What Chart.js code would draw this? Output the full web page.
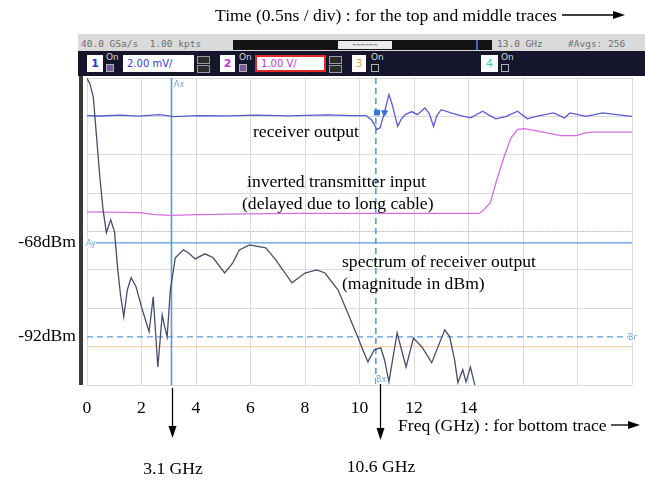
<!DOCTYPE html>
<html>
<head>
<meta charset="utf-8">
<script src="https://cdn.jsdelivr.net/npm/chart.js@4.4.1/dist/chart.umd.min.js"></script>
<style>
  body { margin: 0; width: 645px; height: 482px; background: #fff; position: relative; overflow: hidden;
         font-family: "Liberation Serif", "Times New Roman", serif; }
  #grafico { position: absolute; left: 0; top: 0; }
  .nota { position: absolute; font-size: 17.6px; line-height: 20px; color: #000; white-space: nowrap; }
  .centro { transform: translateX(-50%); }
  .mono { position: absolute; font: 9.5px "DejaVu Sans Mono", monospace; color: #707070; white-space: pre; line-height: 11px; }
  .caixa { position: absolute; top: 55px; height: 17px; background: #fff; text-align: center;
           font: bold 11px "DejaVu Sans", sans-serif; line-height: 17px; }
  .on { position: absolute; top: 52px; font: 9px "DejaVu Sans", sans-serif; color: #d8d8d8; }
  .chk { position: absolute; top: 64px; width: 6px; height: 6px; border: 1px solid #b0b0b0; }
  .campo { position: absolute; top: 55px; height: 17px; background: #fff; box-sizing: border-box; padding-left: 4px;
           font: 10px "DejaVu Sans", sans-serif; line-height: 17px; }
  .ico { position: absolute; width: 11px; height: 6px; border: 1px solid #9a9a9a; background: #2a2a2a; }
  .cursor { position: absolute; font: 8px "DejaVu Sans", sans-serif; color: #6fa3dc; background: #fff; line-height: 9px; }
</style>
</head>
<body>
<canvas id="grafico" width="645" height="482"></canvas>

<!-- barra do osciloscopio -->
<div style="position:absolute;left:78px;top:34px;width:567px;height:17px;background:#dadada"></div>
<span class="mono" style="left:81px;top:38px">40.0 GSa/s  1.00 kpts</span>
<div style="position:absolute;left:233px;top:40px;width:259px;height:10px;background:#141414"></div>
<div style="position:absolute;left:338px;top:41px;width:54px;height:8px;background:#ececec;font:7px 'DejaVu Sans Mono';line-height:8px;text-align:center;color:#333">~~~~~~</div>
<div style="position:absolute;left:476px;top:40px;width:2px;height:10px;background:#3a6ad0"></div>
<span class="mono" style="left:497px;top:38px">13.0 GHz</span>
<span class="mono" style="left:568px;top:38px">#Avgs: 256</span>

<div style="position:absolute;left:78px;top:51px;width:567px;height:25px;background:#15152b"></div>
<div class="caixa" style="left:87px;width:16px;color:#3333cc">1</div>
<span class="on" style="left:106px">On</span>
<div class="chk" style="left:106px;background:#7a5a9a"></div>
<div class="campo" style="left:123px;width:71px;color:#3a3ad0">2.00 mV/</div>
<div class="ico" style="left:197px;top:56px"></div>
<div class="ico" style="left:197px;top:65px"></div>
<div class="caixa" style="left:220px;width:15px;color:#c838c8">2</div>
<span class="on" style="left:239px">On</span>
<div class="chk" style="left:239px;background:#7a5a9a"></div>
<div class="campo" style="left:255px;width:71px;color:#c838c8;border:2px solid #e02828;line-height:13px">1.00 V/</div>
<div class="ico" style="left:329px;top:56px"></div>
<div class="ico" style="left:329px;top:65px"></div>
<div class="caixa" style="left:352px;width:14px;color:#e6a850;font-weight:normal">3</div>
<span class="on" style="left:371px">On</span>
<div class="chk" style="left:371px"></div>
<div class="caixa" style="left:481px;width:17px;color:#3ccfa0;font-weight:normal">4</div>
<span class="on" style="left:501px">On</span>
<div class="chk" style="left:501px"></div>

<!-- borda esquerda da tela -->
<div style="position:absolute;left:79px;top:76px;width:4px;height:309px;background:#3a3a3a"></div>

<!-- marcas dos cursores -->
<span class="cursor" style="left:174px;top:80px">Ax</span>
<span class="cursor" style="left:86px;top:239px">Ay</span>
<span class="cursor" style="left:376px;top:375px">Bx</span>
<span class="cursor" style="left:628px;top:333px">Br</span>

<!-- anotacoes -->
<span class="nota" style="left:215px;top:5px">Time (0.5ns / div) : for the top and middle traces</span>
<span class="nota" style="left:253px;top:121px">receiver output</span>
<span class="nota" style="left:247px;top:171px">inverted transmitter input</span>
<span class="nota" style="left:242px;top:193px">(delayed due to long cable)</span>
<span class="nota" style="left:342px;top:251px">spectrum of receiver output</span>
<span class="nota" style="left:342px;top:273px">(magnitude in dBm)</span>
<span class="nota" style="left:398px;top:415px">Freq (GHz) : for bottom trace</span>
<span class="nota centro" style="left:173px;top:458px">3.1 GHz</span>
<span class="nota centro" style="left:381px;top:456px">10.6 GHz</span>

<svg width="645" height="482" style="position:absolute;left:0;top:0">
  <line x1="562" y1="15" x2="615" y2="15" stroke="#000" stroke-width="1.3"/>
  <polygon points="613,11 625,15 613,19" fill="#000"/>
  <line x1="611" y1="425" x2="630" y2="425" stroke="#000" stroke-width="1.3"/>
  <polygon points="628,421 640,425 628,429" fill="#000"/>
  <line x1="172.5" y1="388" x2="172.5" y2="428" stroke="#000" stroke-width="1.3"/>
  <polygon points="168.5,426 172.5,438 176.5,426" fill="#000"/>
  <line x1="380.5" y1="384" x2="380.5" y2="430" stroke="#000" stroke-width="1.3"/>
  <polygon points="376.5,428 380.5,440 384.5,428" fill="#000"/>
</svg>

<script>
// espectro da saida do receptor (GHz, dBm)
const freqEspectro = [0, 0.11, 0.23, 0.35, 0.47, 0.59, 0.71, 0.87, 1.01, 1.13, 1.23, 1.35, 1.48, 1.62, 1.80, 2.03,
  2.28, 2.43, 2.60, 2.76, 2.85, 2.94, 3.06, 3.24, 3.54, 3.73, 3.97, 4.33, 4.63, 5.05, 5.35, 5.59, 5.96, 6.56,
  6.92, 7.52, 8.00, 8.43, 8.73, 9.21, 9.57, 9.93, 10.17, 10.31, 10.54, 10.78, 10.92, 11.08, 11.38, 11.54, 11.71,
  11.98, 12.29, 12.65, 13.13, 13.31, 13.49, 13.61, 13.79, 13.91, 14.07, 14.21, 14.36];
const dbmEspectro = [-26, -27.4, -30.7, -40.9, -51.1, -59.6, -65.4, -62.1, -65.2, -74.9, -81.3, -86.9, -80.0, -76.9,
  -79.2, -85.1, -90.7, -81.8, -99.7, -86.4, -89.4, -92.0, -80.0, -71.8, -69.8, -70.6, -72.1, -70.8, -71.8, -75.7,
  -73.1, -69.8, -68.5, -69.3, -72.3, -78.2, -75.7, -74.9, -75.7, -80.0, -85.9, -92.0, -96.1, -98.4, -95.3, -94.8,
  -97.9, -103.5, -91.0, -95.3, -99.7, -92.3, -94.6, -98.6, -90.2, -92.0, -97.9, -103.7, -100.4, -103.5, -99.7,
  -103.7, -108.0];

// saida do receptor (ns, mV)
const tempoReceptor = [0, 0.12, 0.30, 0.48, 0.66, 0.80, 1.02, 1.29, 1.56, 1.84, 2.20, 2.42, 2.56, 2.61, 2.66, 2.69,
  2.73, 2.77, 2.80, 2.85, 2.88, 2.92, 2.98, 3.03, 3.10, 3.14, 3.18, 3.21, 3.25, 3.34, 3.43, 3.52, 3.63, 3.68, 3.75,
  3.84, 3.95, 4.04, 4.12, 4.28, 4.38, 4.43, 4.58, 4.73, 4.86, 5.00];
const mvReceptor = [6.04, 6.02, 6.07, 6.01, 6.09, 5.99, 6.04, 6.03, 6.07, 6.03, 6.08, 6.04, 6.04, 5.83, 5.31, 5.42,
  6.25, 7.14, 6.61, 5.48, 5.83, 6.09, 6.25, 6.09, 6.44, 6.15, 5.48, 6.04, 6.35, 6.18, 6.04, 5.92, 6.27, 6.09, 5.87,
  5.99, 6.27, 5.87, 6.00, 6.18, 5.92, 6.18, 6.00, 6.18, 6.09, 6.00];

// entrada invertida do transmissor (ns, V)
const tempoTransmissor = [0, 0.48, 0.62, 0.77, 1.02, 1.47, 1.93, 2.56, 3.10, 3.60, 3.64, 3.70, 3.76, 3.83, 3.89,
  3.95, 4.01, 4.11, 4.22, 4.34, 4.49, 4.57, 4.64, 5.00];
const vTransmissor = [0.51, 0.49, 0.44, 0.42, 0.44, 0.46, 0.47, 0.47, 0.47, 0.47, 0.57, 0.75, 1.35, 1.98, 2.44,
  2.66, 2.68, 2.63, 2.57, 2.50, 2.50, 2.57, 2.59, 2.59];

// marcadores na saida do receptor (ns, mV)
const tempoMarcadores = [2.66, 2.73];
const mvMarcadores = [6.2, 6.2];

// cursores e rotulos
const cursoresFreq = [3.1, 10.6];     // GHz (Ax, Bx)
const cursoresNivel = [-68, -92];     // dBm (Ay, Br)
const rotulosFreq = [0, 2, 4, 6, 8, 10, 12, 14];

const fonteSerif = { family: 'Liberation Serif', size: 17.6 };
const corGrade = '#d9dae0';
const corCursor = '#5c9ade';

function pontos(xs, ys) {
  return xs.map((x, i) => ({ x: x, y: ys[i] }));
}

function linhaH(y, xId, yId, cor, tracejado) {
  return {
    data: [{ x: 0, y: y }, { x: 20, y: y }],
    xAxisID: xId, yAxisID: yId,
    borderColor: cor, borderWidth: 1.2, borderDash: tracejado || [],
    pointRadius: 0
  };
}

function linhaV(x, cor, tracejado) {
  return {
    data: [{ x: x, y: -25.9 }, { x: x, y: -104.3 }],
    xAxisID: 'x', yAxisID: 'y',
    borderColor: cor, borderWidth: 1.6, borderDash: tracejado || [],
    pointRadius: 0
  };
}

const ctx = document.getElementById('grafico').getContext('2d');

const grafico = new Chart(ctx, {
  type: 'line',
  data: {
    datasets: [
      {
        label: 'spectrum',
        data: pontos(freqEspectro, dbmEspectro),
        xAxisID: 'x', yAxisID: 'y',
        borderColor: '#474e68', borderWidth: 1.3, pointRadius: 0
      },
      {
        label: 'receiver output',
        data: pontos(tempoReceptor, mvReceptor),
        xAxisID: 'xt', yAxisID: 'yRx',
        borderColor: '#5a5ad2', borderWidth: 1.3, pointRadius: 0
      },
      {
        label: 'transmitter input',
        data: pontos(tempoTransmissor, vTransmissor),
        xAxisID: 'xt', yAxisID: 'yTx',
        borderColor: '#d46ee0', borderWidth: 1.3, pointRadius: 0
      },
      {
        label: 'markers',
        data: pontos(tempoMarcadores, mvMarcadores),
        xAxisID: 'xt', yAxisID: 'yRx',
        showLine: false,
        pointStyle: ['rect', 'triangle'], rotation: [0, 180],
        pointRadius: 3.5, backgroundColor: '#2a7ae2', borderColor: '#2a7ae2'
      },
      linhaV(cursoresFreq[0], corCursor),
      linhaV(cursoresFreq[1], corCursor, [6, 4]),
      linhaH(cursoresNivel[0], 'x', 'y', corCursor),
      linhaH(cursoresNivel[1], 'x', 'y', corCursor, [6, 4]),
      linhaH(4, 'x', 'yg', '#dcbcc6', [2, 3]),
      linhaH(1, 'x', 'yg', '#f4d2b6')
    ]
  },
  options: {
    responsive: false,
    devicePixelRatio: 1,
    animation: false,
    layout: { padding: { top: 78, right: 5, left: 0, bottom: 0 } },
    plugins: {
      legend: { display: false },
      tooltip: { enabled: false }
    },
    elements: { line: { tension: 0 } },
    scales: {
      x: {
        type: 'linear', min: 0, max: 20, position: 'bottom',
        ticks: {
          stepSize: 2, autoSkip: false, maxRotation: 0, padding: 13,
          color: '#000', font: fonteSerif,
          callback: v => rotulosFreq.includes(v) ? String(v) : ''
        },
        grid: { color: corGrade, drawTicks: false },
        border: { display: false },
        afterFit: s => { s.height = 97; }
      },
      y: {
        type: 'linear', min: -104.3, max: -25.9, position: 'left',
        afterBuildTicks: s => { s.ticks = cursoresNivel.map(v => ({ value: v })); },
        ticks: { padding: 11, autoSkip: false, color: '#000', font: fonteSerif, callback: v => v + 'dBm' },
        grid: { display: false, drawTicks: false },
        border: { display: false },
        afterFit: s => { s.width = 87; }
      },
      yg: {
        type: 'linear', min: 0, max: 8, position: 'right',
        ticks: { display: false, stepSize: 1 },
        grid: { color: corGrade, drawTicks: false },
        border: { display: false },
        afterFit: s => { s.width = 0; }
      },
      xt: { type: 'linear', display: false, min: 0, max: 5 },
      yRx: { type: 'linear', display: false, min: -8, max: 8 },
      yTx: { type: 'linear', display: false, min: -4, max: 4 }
    }
  }
});
</script>
</body>
</html>
